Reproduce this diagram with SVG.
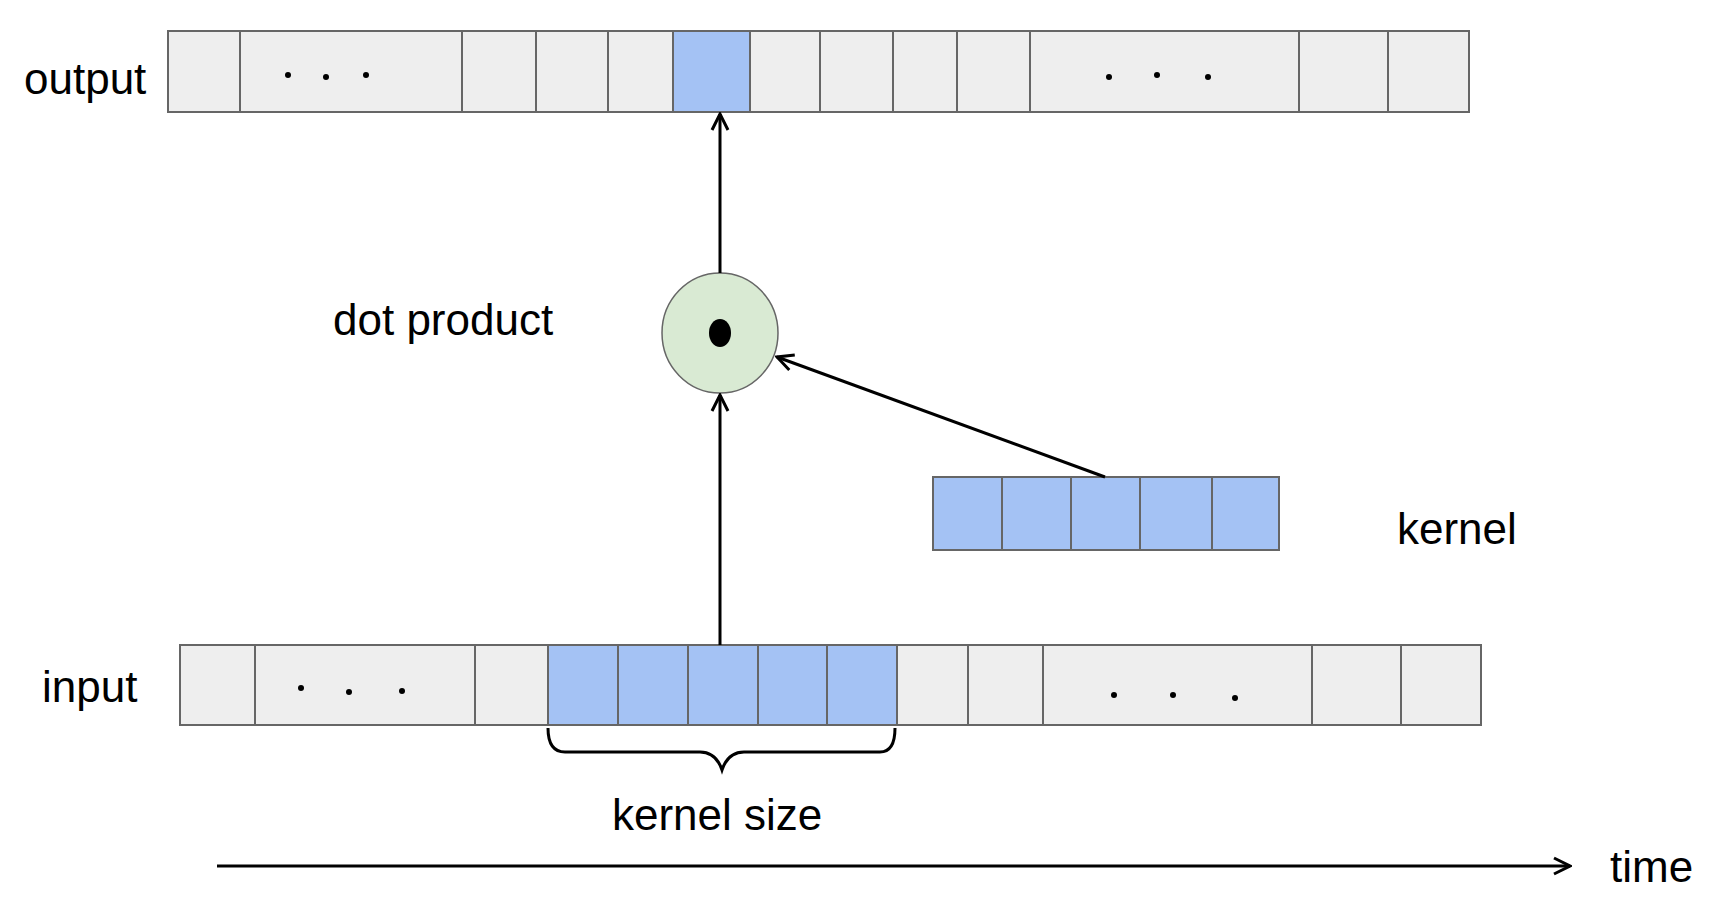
<svg xmlns="http://www.w3.org/2000/svg" width="1713" height="908" viewBox="0 0 1713 908">
<style>
.c{fill:#eeeeee;stroke:#666;stroke-width:2}
.b{fill:#a4c2f4;stroke:#666;stroke-width:2}
.t{font-family:"Liberation Sans",Arial,sans-serif;font-size:44px;fill:#000}
.ln{stroke:#000;stroke-width:3;fill:none}
</style>
<defs>
<marker id="ar" viewBox="0 0 20 20" refX="18" refY="10" markerWidth="20" markerHeight="20" markerUnits="userSpaceOnUse" orient="auto">
<path d="M2,2 L18,10 L2,18" fill="none" stroke="#000" stroke-width="3"/>
</marker>
</defs>
<rect width="1713" height="908" fill="#fff"/>
<g id="output">
<rect class="c" x="168" y="31" width="72" height="81"/>
<rect class="c" x="240" y="31" width="222" height="81"/>
<rect class="c" x="462" y="31" width="74" height="81"/>
<rect class="c" x="536" y="31" width="72" height="81"/>
<rect class="c" x="608" y="31" width="65" height="81"/>
<rect class="b" x="673" y="31" width="77" height="81"/>
<rect class="c" x="750" y="31" width="70" height="81"/>
<rect class="c" x="820" y="31" width="73" height="81"/>
<rect class="c" x="893" y="31" width="64" height="81"/>
<rect class="c" x="957" y="31" width="73" height="81"/>
<rect class="c" x="1030" y="31" width="269" height="81"/>
<rect class="c" x="1299" y="31" width="89" height="81"/>
<rect class="c" x="1388" y="31" width="81" height="81"/>
<circle cx="288" cy="75" r="3"/><circle cx="326" cy="77" r="3"/><circle cx="366" cy="75" r="3"/>
<circle cx="1109" cy="77" r="3"/><circle cx="1157" cy="75" r="3"/><circle cx="1208" cy="77" r="3"/>
<text class="t" x="24" y="94">output</text>
</g>
<g id="input">
<rect class="c" x="180" y="645" width="75" height="80"/>
<rect class="c" x="255" y="645" width="220" height="80"/>
<rect class="c" x="475" y="645" width="73" height="80"/>
<rect class="b" x="548" y="645" width="70" height="80"/>
<rect class="b" x="618" y="645" width="70" height="80"/>
<rect class="b" x="688" y="645" width="70" height="80"/>
<rect class="b" x="758" y="645" width="69" height="80"/>
<rect class="b" x="827" y="645" width="70" height="80"/>
<rect class="c" x="897" y="645" width="71" height="80"/>
<rect class="c" x="968" y="645" width="75" height="80"/>
<rect class="c" x="1043" y="645" width="269" height="80"/>
<rect class="c" x="1312" y="645" width="89" height="80"/>
<rect class="c" x="1401" y="645" width="80" height="80"/>
<circle cx="301" cy="688" r="3"/><circle cx="349" cy="692" r="3"/><circle cx="402" cy="691" r="3"/>
<circle cx="1114" cy="695" r="3"/><circle cx="1173" cy="695" r="3"/><circle cx="1235" cy="698" r="3"/>
<text class="t" x="42" y="702">input</text>
</g>
<g id="kernel">
<rect class="b" x="933" y="477" width="69" height="73"/>
<rect class="b" x="1002" y="477" width="69" height="73"/>
<rect class="b" x="1071" y="477" width="69" height="73"/>
<rect class="b" x="1140" y="477" width="72" height="73"/>
<rect class="b" x="1212" y="477" width="67" height="73"/>
<text class="t" x="1397" y="544">kernel</text>
</g>
<g id="dot">
<ellipse cx="720" cy="333" rx="58" ry="60" fill="#d9ead3" stroke="#666" stroke-width="1.5"/>
<ellipse cx="720" cy="333" rx="11" ry="14" fill="#000"/>
<text class="t" x="333" y="335">dot product</text>
</g>
<g id="brace">
<path class="ln" stroke-width="2" d="M548,728 Q548,752 565,752 L700,752 Q716,752 722,770 Q728,752 744,752 L880,752 Q895,752 895,728"/>
<text class="t" x="612" y="830">kernel size</text>
</g>
<g id="connectors">
<line class="ln" x1="720" y1="273" x2="720" y2="114" marker-end="url(#ar)"/>
<line class="ln" x1="720" y1="645" x2="720" y2="395" marker-end="url(#ar)"/>
<line class="ln" x1="1105" y1="477" x2="777" y2="357" marker-end="url(#ar)"/>
<line class="ln" x1="217" y1="866" x2="1570" y2="866" marker-end="url(#ar)"/>
</g>
<text class="t" x="1610" y="882">time</text>
</svg>
